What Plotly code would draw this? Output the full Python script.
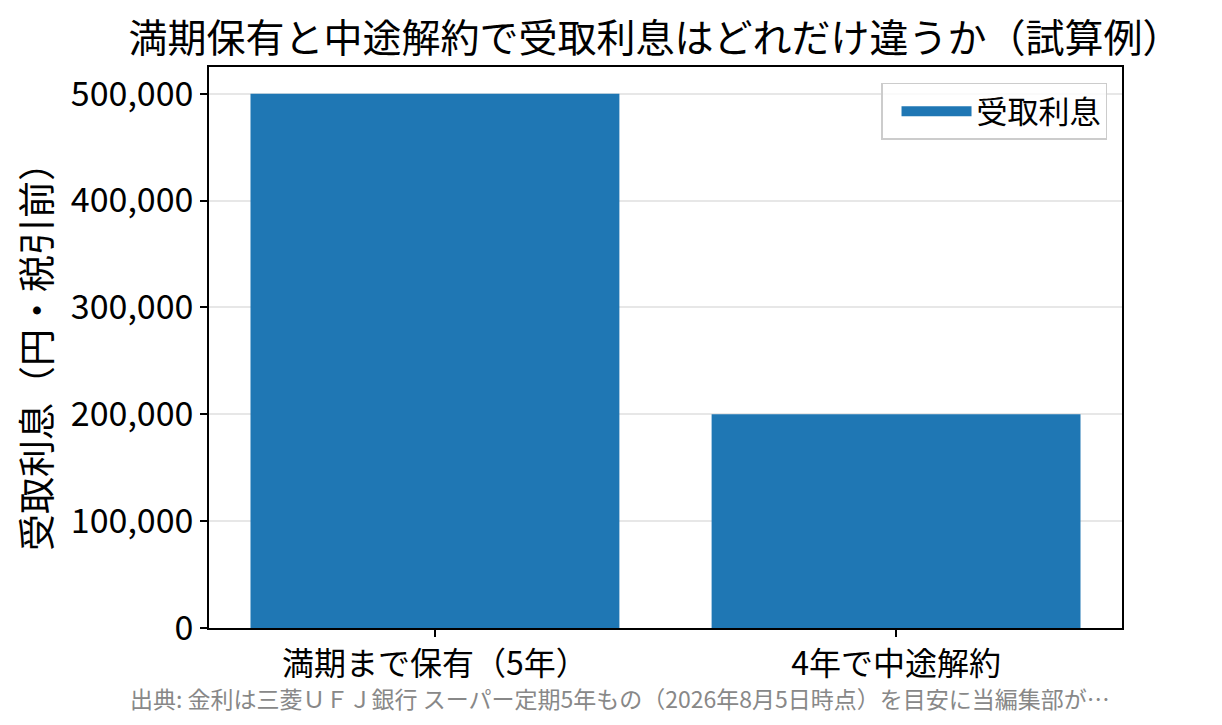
import plotly.graph_objects as go

categories = ["満期まで保有（5年）", "4年で中途解約"]
interest = [500000, 200000]
series_name = "受取利息"
title_text = "満期保有と中途解約で受取利息はどれだけ違うか（試算例）"
y_title = "受取利息（円・税引前）"
footnote = "出典: 金利は三菱ＵＦＪ銀行 スーパー定期5年もの（2026年8月5日時点）を目安に当編集部が…"
y_ticks = [0, 100000, 200000, 300000, 400000, 500000]

FONT = "Noto Sans CJK JP"
BLUE = "#1f77b4"

fig = go.Figure()
fig.add_trace(go.Bar(
    x=[0, 1], y=interest, name=series_name, width=0.8,
    marker=dict(color=BLUE, line=dict(width=0)),
    showlegend=False,
))
# legend entry drawn as a wide patch
fig.add_trace(go.Scatter(
    x=[None], y=[None], mode="lines", name=series_name,
    line=dict(color=BLUE, width=20), showlegend=True, hoverinfo="skip",
))

fig.update_layout(
    width=1222, height=725,
    margin=dict(l=201, r=108, t=59, b=105),
    paper_bgcolor="white", plot_bgcolor="white",
    font=dict(family=FONT, color="black"),
    title=dict(text=title_text, x=0.5295, xanchor="center", y=0.958, yanchor="middle",
               font=dict(size=39, family=FONT, color="black")),
    showlegend=True,
    legend=dict(x=0.9836, xanchor="right", y=0.9715, yanchor="top",
                bordercolor="#cccccc", borderwidth=1.5, bgcolor="rgba(255,255,255,0.8)",
                font=dict(size=31, family=FONT), itemwidth=70, indentation=14),
)
fig.update_xaxes(
    range=[-0.49, 1.49], tickmode="array", tickvals=[0, 1], ticktext=categories,
    showline=True, linecolor="black", linewidth=1.5, mirror=True,
    ticks="outside", ticklen=7, tickwidth=1.5, tickcolor="black",
    tickfont=dict(size=32, family=FONT), showgrid=False, zeroline=False,
)
fig.update_yaxes(
    range=[0, 525000], tickmode="array", tickvals=y_ticks,
    ticktext=[f"{v:,}" for v in y_ticks],
    showline=True, linecolor="black", linewidth=1.5, mirror=True,
    ticks="outside", ticklen=7, tickwidth=1.5, tickcolor="black",
    tickfont=dict(size=34, family=FONT),
    showgrid=True, gridcolor="rgba(176,176,176,0.3)", gridwidth=1.5,
    zeroline=False, layer="above traces",
    title=dict(text=y_title, font=dict(size=37, family=FONT), standoff=8),
)
fig.add_annotation(
    text=footnote, xref="paper", yref="paper", x=0.450, y=-0.1248,
    xanchor="center", yanchor="middle", showarrow=False,
    font=dict(size=23, family=FONT, color="#888888"),
)
fig.write_html("out.html")
